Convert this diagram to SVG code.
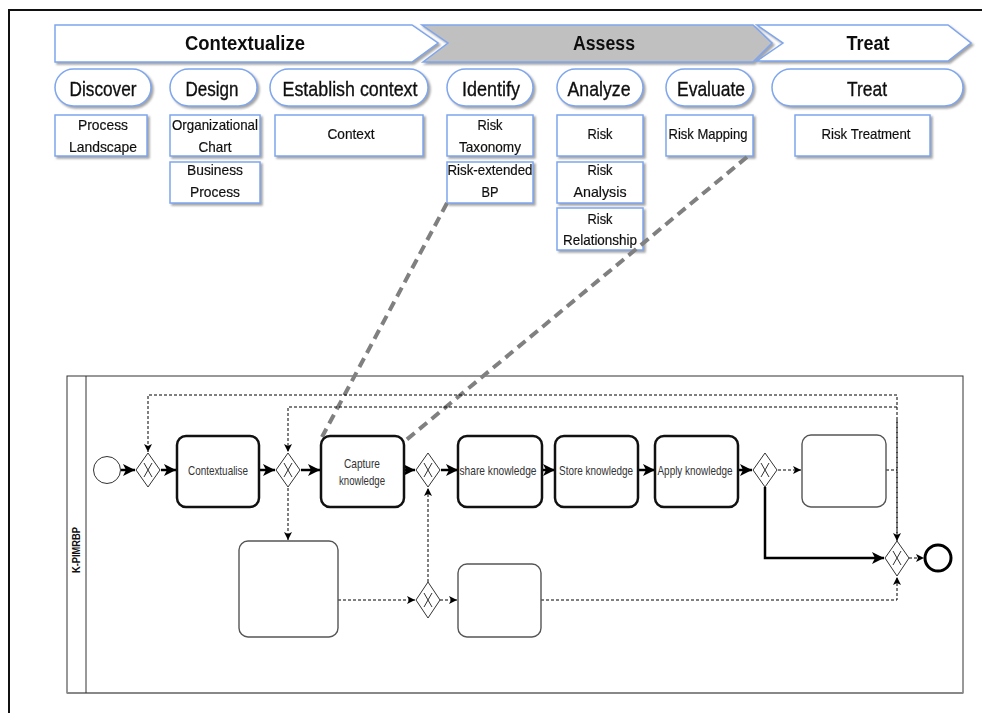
<svg xmlns="http://www.w3.org/2000/svg" width="982" height="713" viewBox="0 0 982 713">
  <style>
    .chev { stroke: #7ea6ee; stroke-width: 1.5; }
    .pill { fill: #ffffff; stroke: #7ea6ee; stroke-width: 1.5; }
    .box { fill: #ffffff; stroke: #7ea6ee; stroke-width: 1.5; }
    .head { font-family: "Liberation Sans", Arial, sans-serif; font-weight: bold; font-size: 20px; fill: #111; text-anchor: middle; }
    .phase { font-family: "Liberation Sans Narrow", "Liberation Sans", Arial, sans-serif; font-size: 21px; fill: #111; stroke: #111; stroke-width: 0.35; text-anchor: middle; }
    .lbl { font-family: "Liberation Sans Narrow", "Liberation Sans", Arial, sans-serif; font-size: 15px; fill: #111; stroke: #111; stroke-width: 0.2; text-anchor: middle; }
    .task { fill: #ffffff; stroke: #111; stroke-width: 2.5; }
    .task-empty { fill: #ffffff; stroke: #555; stroke-width: 1.4; }
    .tlbl { font-family: "Liberation Sans Narrow", "Liberation Sans", Arial, sans-serif; font-size: 13px; fill: #333; text-anchor: middle; }
    .gw { fill: #ffffff; stroke: #333; stroke-width: 1; }
    .gwx { stroke: #333; stroke-width: 1; fill: none; }
    .flow { fill: none; stroke: #000; stroke-width: 2.5; }
    .dflow { fill: none; stroke: #000; stroke-width: 1; stroke-dasharray: 3 2; }
    .link { fill: none; stroke: #808080; stroke-width: 4; stroke-dasharray: 10 6; }
  </style>
  <defs>
    <filter id="shadow" x="-10%" y="-10%" width="130%" height="140%">
      <feDropShadow dx="2" dy="2" stdDeviation="0.8" flood-color="#9a9a9a" flood-opacity="0.9"/>
    </filter>
    <marker id="arrowBig" markerUnits="userSpaceOnUse" markerWidth="14" markerHeight="14" refX="12" refY="6" orient="auto">
      <path d="M0,0 L12,6 L0,12 L3,6 Z" fill="#000"/>
    </marker>
    <marker id="arrowSmall" markerUnits="userSpaceOnUse" markerWidth="10" markerHeight="10" refX="8" refY="4" orient="auto">
      <path d="M0,0 L8,4 L0,8 L2,4 Z" fill="#000"/>
    </marker>
  </defs>

  <rect width="982" height="713" fill="#ffffff"/>
  <!-- outer frame -->
  <rect x="9" y="10" width="985" height="720" fill="none" stroke="#111" stroke-width="2"/>

  <!-- phase chevrons -->
  <g id="phase-contextualize" filter="url(#shadow)">
    <path class="chev" d="M55,25 H412 L438,43 L412,62 H55 Z" fill="#ffffff"/>
    <text class="head" x="245" y="50" textLength="120" lengthAdjust="spacingAndGlyphs">Contextualize</text>
  </g>
  <g id="phase-assess" filter="url(#shadow)">
    <path class="chev" d="M422,25 H753 L772,43 L753,62 H423 L448,43 Z" fill="#c0c0c0"/>
    <text class="head" x="604" y="50" textLength="62" lengthAdjust="spacingAndGlyphs">Assess</text>
  </g>
  <g id="phase-treat" filter="url(#shadow)">
    <path class="chev" d="M757,25 H948 L971,43 L948,61 H757 L783,43 Z" fill="#ffffff"/>
    <text class="head" x="868" y="50" textLength="43" lengthAdjust="spacingAndGlyphs">Treat</text>
  </g>

  <!-- activity pills -->
  <g id="step-discover" filter="url(#shadow)">
    <rect class="pill" x="55" y="69" width="96" height="37" rx="18.5"/>
    <text class="phase" x="103" y="96" textLength="67" lengthAdjust="spacingAndGlyphs">Discover</text>
  </g>
  <g id="step-design" filter="url(#shadow)">
    <rect class="pill" x="170" y="69" width="87" height="37" rx="18.5"/>
    <text class="phase" x="212" y="96" textLength="53" lengthAdjust="spacingAndGlyphs">Design</text>
  </g>
  <g id="step-establish" filter="url(#shadow)">
    <rect class="pill" x="270" y="69" width="158" height="37" rx="18.5"/>
    <text class="phase" x="350" y="96" textLength="135" lengthAdjust="spacingAndGlyphs">Establish context</text>
  </g>
  <g id="step-identify" filter="url(#shadow)">
    <rect class="pill" x="447" y="69" width="86" height="37" rx="18.5"/>
    <text class="phase" x="491" y="96" textLength="58" lengthAdjust="spacingAndGlyphs">Identify</text>
  </g>
  <g id="step-analyze" filter="url(#shadow)">
    <rect class="pill" x="557" y="69" width="86" height="37" rx="18.5"/>
    <text class="phase" x="599" y="96" textLength="63" lengthAdjust="spacingAndGlyphs">Analyze</text>
  </g>
  <g id="step-evaluate" filter="url(#shadow)">
    <rect class="pill" x="666" y="69" width="87" height="37" rx="18.5"/>
    <text class="phase" x="711" y="96" textLength="68" lengthAdjust="spacingAndGlyphs">Evaluate</text>
  </g>
  <g id="step-treat" filter="url(#shadow)">
    <rect class="pill" x="772" y="69" width="191" height="37" rx="18.5"/>
    <text class="phase" x="867" y="96" textLength="40" lengthAdjust="spacingAndGlyphs">Treat</text>
  </g>

  <!-- artefact boxes -->
  <g id="art-process-landscape" filter="url(#shadow)">
    <rect class="box" x="55" y="115" width="92" height="41"/>
    <text class="lbl" x="103" y="130" textLength="50" lengthAdjust="spacingAndGlyphs">Process</text>
    <text class="lbl" x="103" y="152" textLength="68" lengthAdjust="spacingAndGlyphs">Landscape</text>
  </g>
  <g id="art-org-chart" filter="url(#shadow)">
    <rect class="box" x="170" y="115" width="90" height="41"/>
    <text class="lbl" x="215" y="130" textLength="86" lengthAdjust="spacingAndGlyphs">Organizational</text>
    <text class="lbl" x="215" y="152" textLength="33" lengthAdjust="spacingAndGlyphs">Chart</text>
  </g>
  <g id="art-business-process" filter="url(#shadow)">
    <rect class="box" x="170" y="162" width="90" height="41"/>
    <text class="lbl" x="215" y="175" textLength="56" lengthAdjust="spacingAndGlyphs">Business</text>
    <text class="lbl" x="215" y="197" textLength="50" lengthAdjust="spacingAndGlyphs">Process</text>
  </g>
  <g id="art-context" filter="url(#shadow)">
    <rect class="box" x="275" y="115" width="148" height="41"/>
    <text class="lbl" x="351" y="139" textLength="47" lengthAdjust="spacingAndGlyphs">Context</text>
  </g>
  <g id="art-risk-taxonomy" filter="url(#shadow)">
    <rect class="box" x="447" y="115" width="86" height="41"/>
    <text class="lbl" x="490" y="130" textLength="25" lengthAdjust="spacingAndGlyphs">Risk</text>
    <text class="lbl" x="490" y="152" textLength="62" lengthAdjust="spacingAndGlyphs">Taxonomy</text>
  </g>
  <g id="art-risk-extended-bp" filter="url(#shadow)">
    <rect class="box" x="447" y="162" width="86" height="41"/>
    <text class="lbl" x="490" y="175" textLength="85" lengthAdjust="spacingAndGlyphs">Risk-extended</text>
    <text class="lbl" x="490" y="197" textLength="17" lengthAdjust="spacingAndGlyphs">BP</text>
  </g>
  <g id="art-risk" filter="url(#shadow)">
    <rect class="box" x="557" y="115" width="86" height="41"/>
    <text class="lbl" x="600" y="139" textLength="25" lengthAdjust="spacingAndGlyphs">Risk</text>
  </g>
  <g id="art-risk-analysis" filter="url(#shadow)">
    <rect class="box" x="557" y="162" width="86" height="41"/>
    <text class="lbl" x="600" y="175" textLength="25" lengthAdjust="spacingAndGlyphs">Risk</text>
    <text class="lbl" x="600" y="197" textLength="53" lengthAdjust="spacingAndGlyphs">Analysis</text>
  </g>
  <g id="art-risk-relationship" filter="url(#shadow)">
    <rect class="box" x="557" y="208" width="86" height="42"/>
    <text class="lbl" x="600" y="224" textLength="25" lengthAdjust="spacingAndGlyphs">Risk</text>
    <text class="lbl" x="600" y="245" textLength="74" lengthAdjust="spacingAndGlyphs">Relationship</text>
  </g>
  <g id="art-risk-mapping" filter="url(#shadow)">
    <rect class="box" x="666" y="115" width="87" height="41"/>
    <text class="lbl" x="708" y="139" textLength="79" lengthAdjust="spacingAndGlyphs">Risk Mapping</text>
  </g>
  <g id="art-risk-treatment" filter="url(#shadow)">
    <rect class="box" x="795" y="115" width="135" height="41"/>
    <text class="lbl" x="866" y="139" textLength="89" lengthAdjust="spacingAndGlyphs">Risk Treatment</text>
  </g>

  <!-- process pool -->
  <g id="pool">
    <rect x="67" y="376" width="896" height="317" fill="#ffffff" stroke="#333" stroke-width="1"/>
    <line x1="67" y1="693" x2="963" y2="693" stroke="#888" stroke-width="2"/>
    <line x1="86" y1="376" x2="86" y2="693" stroke="#333" stroke-width="1"/>
    <text x="0" y="0" transform="translate(80,550) rotate(-90)" font-family="Liberation Sans, Arial, sans-serif" font-weight="bold" font-size="11" fill="#111" text-anchor="middle" textLength="46" lengthAdjust="spacingAndGlyphs">K-PIMRBP</text>
  </g>

  <!-- connectors -->
  <g id="connectors">
    <!-- artefact links into the capture task -->
    <path class="link" d="M447,203 L322,437"/>
    <path class="link" d="M747,157 L405,441"/>

    <!-- main sequence flow -->
    <path class="flow" d="M121,470 H135" marker-end="url(#arrowBig)"/>
    <path class="flow" d="M161,470 H176" marker-end="url(#arrowBig)"/>
    <path class="flow" d="M259,470 H275" marker-end="url(#arrowBig)"/>
    <path class="flow" d="M301,470 H320" marker-end="url(#arrowBig)"/>
    <path class="flow" d="M404,470 H415" marker-end="url(#arrowBig)"/>
    <path class="flow" d="M441,470 H458" marker-end="url(#arrowBig)"/>
    <path class="flow" d="M542,470 H555" marker-end="url(#arrowBig)"/>
    <path class="flow" d="M638,470 H655" marker-end="url(#arrowBig)"/>
    <path class="flow" d="M738,470 H752" marker-end="url(#arrowBig)"/>
    <path class="flow" d="M765,487 V558 H884" marker-end="url(#arrowBig)"/>

    <!-- conditional / loop flows -->
    <path class="dflow" d="M897,540 V395 H148 V452" marker-end="url(#arrowSmall)"/>
    <path class="dflow" d="M897,407 H288 V452" marker-end="url(#arrowSmall)"/>
    <path class="dflow" d="M897,420 V541" marker-end="url(#arrowSmall)"/>
    <path class="dflow" d="M778,470 H801" marker-end="url(#arrowSmall)"/>
    <path class="dflow" d="M886,470 H897"/>
    <path class="dflow" d="M288,488 V540" marker-end="url(#arrowSmall)"/>
    <path class="dflow" d="M338,600 H415" marker-end="url(#arrowSmall)"/>
    <path class="dflow" d="M428,582 V488" marker-end="url(#arrowSmall)"/>
    <path class="dflow" d="M440,600 H457" marker-end="url(#arrowSmall)"/>
    <path class="dflow" d="M541,600 H897 V577" marker-end="url(#arrowSmall)"/>
    <path class="dflow" d="M909,558 H924" marker-end="url(#arrowSmall)"/>
  </g>

  <!-- events -->
  <g id="start-event">
    <circle cx="107" cy="470" r="13.5" fill="#ffffff" stroke="#333" stroke-width="1"/>
  </g>
  <g id="end-event">
    <circle cx="938" cy="558" r="13" fill="#ffffff" stroke="#000" stroke-width="3"/>
  </g>

  <!-- gateways -->
  <g id="gw-1">
    <path class="gw" d="M148,453 L160,470 L148,487 L136,470 Z"/>
    <path class="gwx" d="M144,463 L152,477 M152,463 L144,477"/>
  </g>
  <g id="gw-2">
    <path class="gw" d="M288,453 L300,470 L288,487 L276,470 Z"/>
    <path class="gwx" d="M284,463 L292,477 M292,463 L284,477"/>
  </g>
  <g id="gw-3">
    <path class="gw" d="M428,453 L440,470 L428,487 L416,470 Z"/>
    <path class="gwx" d="M424,463 L432,477 M432,463 L424,477"/>
  </g>
  <g id="gw-4">
    <path class="gw" d="M765,453 L777,470 L765,487 L753,470 Z"/>
    <path class="gwx" d="M761,463 L769,477 M769,463 L761,477"/>
  </g>
  <g id="gw-5">
    <path class="gw" d="M897,541 L909,558 L897,576 L885,558 Z"/>
    <path class="gwx" d="M893,551 L901,565 M901,551 L893,565"/>
  </g>
  <g id="gw-6">
    <path class="gw" d="M428,582 L440,600 L428,618 L416,600 Z"/>
    <path class="gwx" d="M424,593 L432,607 M432,593 L424,607"/>
  </g>

  <!-- tasks -->
  <g id="task-contextualise">
    <rect class="task" x="177" y="436" width="82" height="71" rx="9"/>
    <text class="tlbl" x="218" y="475" textLength="60" lengthAdjust="spacingAndGlyphs">Contextualise</text>
  </g>
  <g id="task-capture">
    <rect class="task" x="321" y="436" width="83" height="71" rx="9"/>
    <text class="tlbl" x="362" y="468" textLength="36" lengthAdjust="spacingAndGlyphs">Capture</text>
    <text class="tlbl" x="362" y="485" textLength="46" lengthAdjust="spacingAndGlyphs">knowledge</text>
  </g>
  <g id="task-share">
    <rect class="task" x="458" y="436" width="84" height="71" rx="9"/>
    <text class="tlbl" x="498" y="475" textLength="77" lengthAdjust="spacingAndGlyphs">share knowledge</text>
  </g>
  <g id="task-store">
    <rect class="task" x="555" y="436" width="83" height="71" rx="9"/>
    <text class="tlbl" x="596" y="475" textLength="74" lengthAdjust="spacingAndGlyphs">Store knowledge</text>
  </g>
  <g id="task-apply">
    <rect class="task" x="655" y="436" width="83" height="71" rx="9"/>
    <text class="tlbl" x="695" y="475" textLength="75" lengthAdjust="spacingAndGlyphs">Apply knowledge</text>
  </g>
  <g id="task-upper-right">
    <rect class="task-empty" x="802" y="435" width="84" height="72" rx="9"/>
  </g>
  <g id="task-lower-left">
    <rect class="task-empty" x="239" y="541" width="99" height="96" rx="9"/>
  </g>
  <g id="task-lower-mid">
    <rect class="task-empty" x="458" y="564" width="83" height="73" rx="9"/>
  </g>
</svg>
